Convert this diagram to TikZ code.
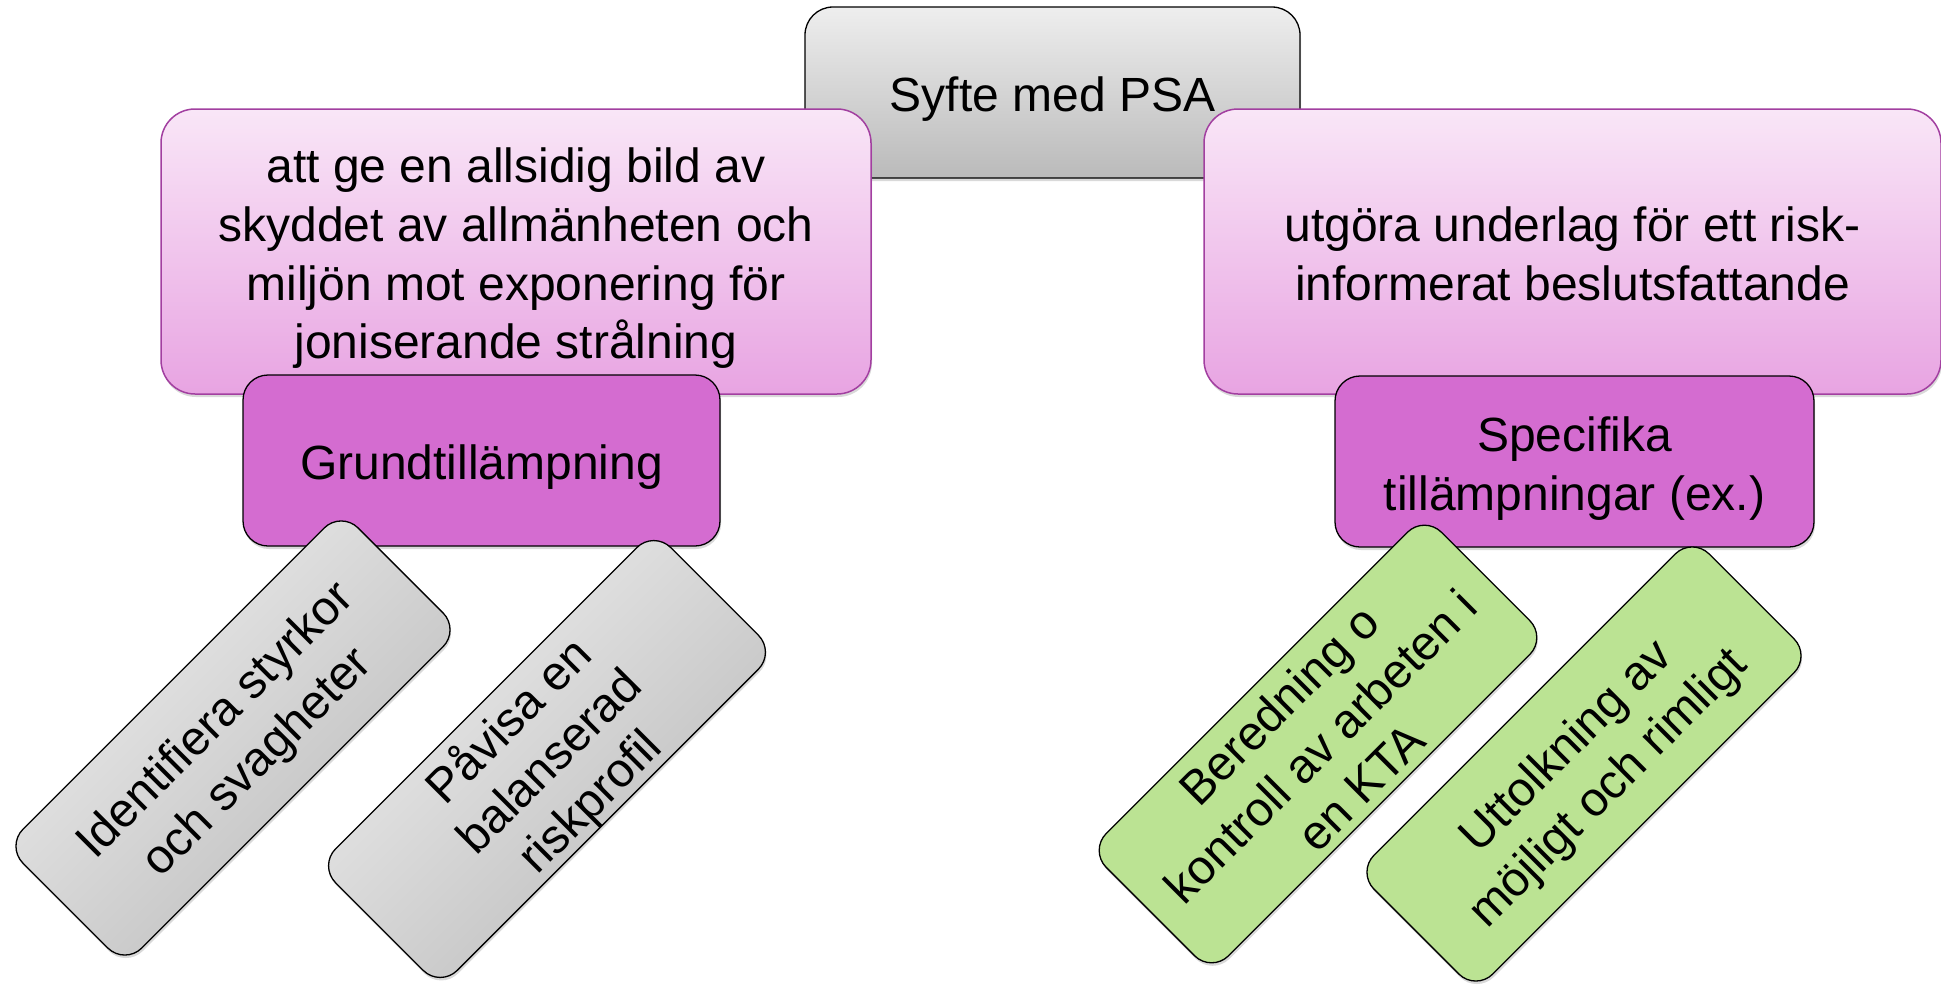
\documentclass[tikz,border=0pt]{standalone}
\usepackage{fontspec}
\setmainfont{Liberation Sans}
\usetikzlibrary{shadows}
\definecolor{gtop}{HTML}{EEEEEE}
\definecolor{gbot}{HTML}{BABABA}
\definecolor{ptop}{HTML}{F9E6F7}
\definecolor{pbot}{HTML}{E8A4E2}
\definecolor{pline}{HTML}{A23FA0}
\definecolor{orch}{HTML}{D46CD0}
\definecolor{lgreen}{HTML}{BBE393}
\newcommand\ls{\rule[-9pt]{0pt}{57pt}}
\begin{document}
\begin{tikzpicture}[x=1pt,y=-1pt,
  every node/.style={font=\fontsize{48}{57}\selectfont, align=center, inner sep=0pt, text=black},
  shd/.style={drop shadow={shadow xshift=1pt, shadow yshift=-3pt, opacity=0.3}},
  topbox/.style={draw=black, line width=1.3pt, rounded corners=28pt, top color=gtop, bottom color=gbot, shd},
  pinkbox/.style={draw=pline, line width=1.5pt, rounded corners=34pt, top color=ptop, bottom color=pbot, shd},
  orchbox/.style={draw=black, line width=1.3pt, rounded corners=25pt, fill=orch, shd},
  leafbox/.style={draw=black, line width=1.3pt, rounded corners=24pt, rotate=45,
    minimum width=474pt, minimum height=168pt, shd},
  leafgray/.style={leafbox, top color=gtop, bottom color=gbot, shading angle=45},
  leafgreen/.style={leafbox, fill=lgreen}
]
\useasboundingbox (0,0) rectangle (1941,985);

\node[topbox, minimum width=495pt, minimum height=171pt] (syfte) at (1052.5,92.5) {\ls Syfte med PSA};

\node[pinkbox, minimum width=710pt, minimum height=285pt] (allsidig) at (516,251.5)
  {\ls att ge en allsidig bild av\\\ls skyddet av allmänheten och\\\ls miljön mot exponering för\\\ls joniserande strålning};
\node[pinkbox, minimum width=737pt, minimum height=285pt] (underlag) at (1572.5,251.5)
  {\ls utgöra underlag för ett risk-\\\ls informerat beslutsfattande};

\node[orchbox, minimum width=477pt, minimum height=171pt] (grund) at (481.5,460.5) {\ls Grundtillämpning};
\node[orchbox, minimum width=479pt, minimum height=171pt] (spec) at (1574.5,461.5)
  {\ls Specifika\\\ls tillämpningar (ex.)};

\node[leafgray] (ident) at (233,738) {\ls Identifiera styrkor\\\ls och svagheter};
\node[leafgray] (pavisa) at (547,759) {\ls Påvisa en\\\ls balanserad\\\ls riskprofil};
\node[leafgreen] (bered) at (1318,744) {\ls Beredning o\\\ls kontroll av arbeten i\\\ls en KTA};
\node[leafgreen] (uttolk) at (1584,764) {\ls Uttolkning av\\\ls möjligt och rimligt};
\end{tikzpicture}
\end{document}
